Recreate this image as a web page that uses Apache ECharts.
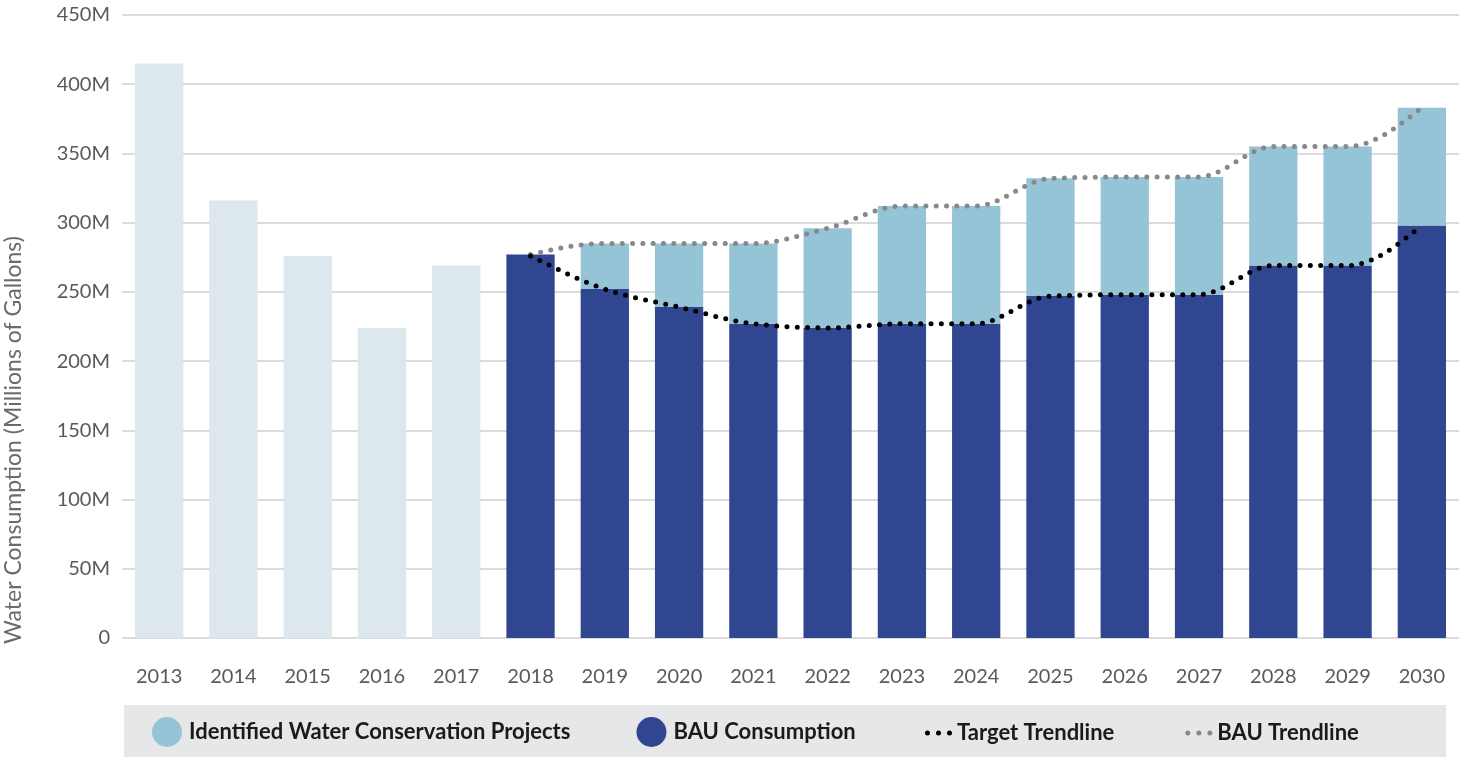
<!DOCTYPE html>
<html>
<head>
<meta charset="utf-8">
<script src="https://cdn.jsdelivr.net/npm/echarts@6/dist/echarts.min.js"></script>
<style>
html,body{margin:0;padding:0;background:#fff;}
#main{width:1462px;height:757px;}
</style>
</head>
<body>
<div id="main"></div>
<script>
// Values in millions of gallons
const years = ['2013','2014','2015','2016','2017','2018','2019','2020','2021','2022','2023','2024','2025','2026','2027','2028','2029','2030'];
const historical = [415, 316, 276, 224, 269, null, null, null, null, null, null, null, null, null, null, null, null, null];
const bauConsumption = [null, null, null, null, null, 277, 252, 239, 227, 224, 227, 227, 247, 248, 248, 269, 269, 298];
const conservationProjects = [null, null, null, null, null, 0, 33, 46, 58, 72, 85, 85, 85, 85, 85, 86, 86, 85];
const targetTrendline = [null, null, null, null, null, 276, 252, 239, 227, 224, 227, 227, 247, 248, 248, 269, 269, 298];
const bauTrendline = [null, null, null, null, null, 277, 285, 285, 285, 296, 312, 312, 332, 333, 333, 355, 355, 383];
const yTicks = {min: 0, max: 450, interval: 50};

const chart = echarts.init(document.getElementById('main'));
const FONT = 'Lato, "Open Sans", sans-serif';
const dotsIcon = 'path://M0,2.5a2.5,2.5 0 1,0 5,0a2.5,2.5 0 1,0 -5,0M11,2.5a2.5,2.5 0 1,0 5,0a2.5,2.5 0 1,0 -5,0M22,2.5a2.5,2.5 0 1,0 5,0a2.5,2.5 0 1,0 -5,0';

// Monotone cubic (Fritsch–Carlson style) path through pixel points
function sign(v) { return v < 0 ? -1 : 1; }
function monotonePath(p) {
  const n = p.length;
  if (n < 2) return '';
  const t = new Array(n).fill(0);
  for (let i = 1; i < n - 1; i++) {
    const h0 = p[i][0] - p[i - 1][0], h1 = p[i + 1][0] - p[i][0];
    const s0 = (p[i][1] - p[i - 1][1]) / h0, s1 = (p[i + 1][1] - p[i][1]) / h1;
    const q = (s0 * h1 + s1 * h0) / (h0 + h1);
    t[i] = (sign(s0) + sign(s1)) * Math.min(Math.abs(s0), Math.abs(s1), 0.5 * Math.abs(q)) || 0;
  }
  const sFirst = (p[1][1] - p[0][1]) / (p[1][0] - p[0][0]);
  const sLast = (p[n - 1][1] - p[n - 2][1]) / (p[n - 1][0] - p[n - 2][0]);
  t[0] = n > 2 ? (3 * sFirst - t[1]) / 2 : sFirst;
  t[n - 1] = n > 2 ? (3 * sLast - t[n - 2]) / 2 : sLast;
  let d = 'M' + p[0][0] + ',' + p[0][1];
  for (let i = 0; i < n - 1; i++) {
    const dx = (p[i + 1][0] - p[i][0]) / 3;
    d += 'C' + (p[i][0] + dx) + ',' + (p[i][1] + dx * t[i]) + ',' +
         (p[i + 1][0] - dx) + ',' + (p[i + 1][1] - dx * t[i + 1]) + ',' +
         p[i + 1][0] + ',' + p[i + 1][1];
  }
  return d;
}
function trendSeries(name, values, color, z) {
  const data = values.map((v, i) => [i, v]).filter(d => d[1] != null);
  return {
    name: name, type: 'custom', coordinateSystem: 'cartesian2d', z: z,
    data: data, encode: {x: 0, y: 1}, silent: true,
    itemStyle: {color: color},
    renderItem: function (params, api) {
      if (params.dataIndex !== 0) return null;
      const pts = data.map(d => api.coord(d));
      return {
        type: 'path',
        shape: {pathData: monotonePath(pts)},
        style: {fill: 'none', stroke: color, lineWidth: 5, lineDash: [0, 10.3], lineCap: 'round'}
      };
    }
  };
}

chart.setOption({
  animation: false,
  textStyle: {fontFamily: FONT},
  grid: {left: 122, right: 3, top: 15, bottom: 119, containLabel: false},
  graphic: [
    {type: 'rect', left: 124, top: 705, shape: {width: 1322, height: 52}, style: {fill: '#e6e7e8'}, z: -1},
    {type: 'text', x: 14, y: 440, rotation: Math.PI / 2,
     style: {text: 'Water Consumption (Millions of Gallons)', fill: '#6b6b6b', font: '23px ' + FONT, textAlign: 'center', textVerticalAlign: 'middle'}}
  ],
  legend: [
    {
      data: ['Identified Water Conservation Projects', 'BAU Consumption'],
      left: 152, top: 717, padding: 0, icon: 'circle', itemWidth: 30, itemHeight: 30, itemGap: 66,
      textStyle: {fontFamily: FONT, fontWeight: 'bold', fontSize: 22, color: '#1a1a1a', padding: [0, 0, 0, 2]},
      selectedMode: false
    },
    {
      data: [{name: 'Target Trendline', icon: dotsIcon}, {name: 'BAU Trendline', icon: dotsIcon}],
      left: 925, top: 722, padding: 0, itemWidth: 27, itemHeight: 5, itemGap: 71,
      textStyle: {fontFamily: FONT, fontWeight: 'bold', fontSize: 22, color: '#1a1a1a'},
      selectedMode: false
    }
  ],
  xAxis: {
    type: 'category', data: years,
    axisLine: {show: false}, axisTick: {show: false},
    axisLabel: {color: '#595959', fontSize: 20, margin: 29, fontFamily: FONT}
  },
  yAxis: {
    type: 'value', min: yTicks.min, max: yTicks.max, interval: yTicks.interval,
    axisLine: {show: false}, axisTick: {show: false},
    splitLine: {lineStyle: {color: '#cfcfcf', width: 1.5}},
    axisLabel: {color: '#595959', fontSize: 20, margin: 12, fontFamily: FONT,
      formatter: v => v === 0 ? '0' : v + 'M'}
  },
  series: [
    {name: 'Historical', type: 'bar', stack: 'a', data: historical, barWidth: '65%',
     itemStyle: {color: '#dde7ee'}},
    {name: 'BAU Consumption', type: 'bar', stack: 'a', data: bauConsumption, barWidth: '65%',
     itemStyle: {color: '#314691'}},
    {name: 'Identified Water Conservation Projects', type: 'bar', stack: 'a', data: conservationProjects, barWidth: '65%',
     itemStyle: {color: '#96c4d7'}},
    trendSeries('BAU Trendline', bauTrendline, '#888888', 5),
    trendSeries('Target Trendline', targetTrendline, '#000000', 6)
  ]
});
</script>
</body>
</html>
